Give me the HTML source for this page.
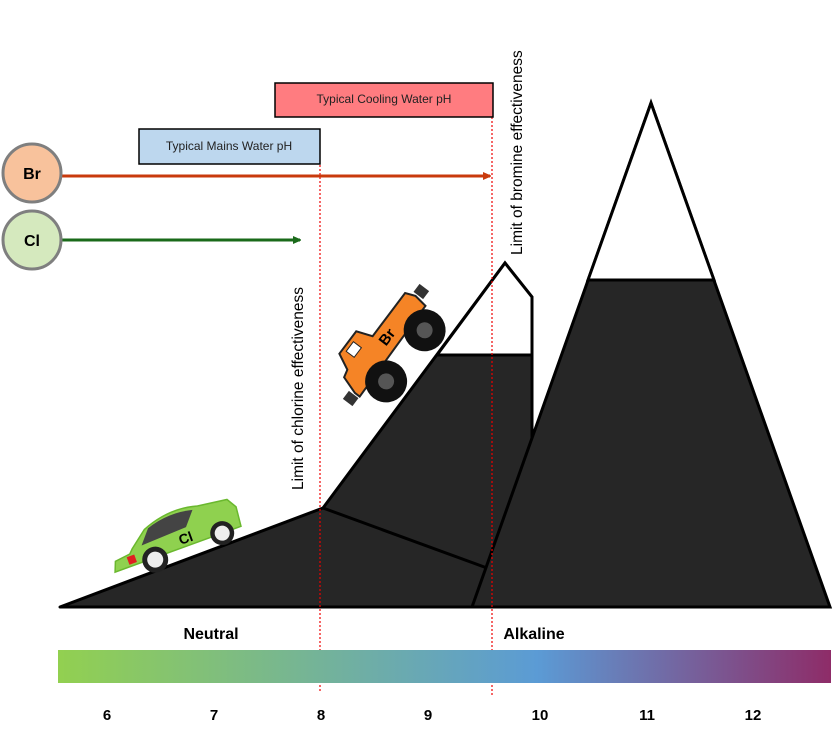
<!DOCTYPE html>
<html><head><meta charset="utf-8"><style>
html,body{margin:0;padding:0;background:#fff;}
svg{display:block;font-family:"Liberation Sans",sans-serif;}
</style></head><body>
<svg width="833" height="737" viewBox="0 0 833 737" xmlns="http://www.w3.org/2000/svg">
<defs>
<linearGradient id="g" x1="0" x2="1" y1="0" y2="0">
<stop offset="0" stop-color="#92d050"/>
<stop offset="0.62" stop-color="#5b9bd5"/>
<stop offset="1" stop-color="#8e2c68"/>
</linearGradient>
<marker id="ar" markerWidth="8" markerHeight="8" refX="7" refY="4" orient="auto" markerUnits="userSpaceOnUse"><path d="M0,0 L9,4 L0,8 z" fill="#c93a0c"/></marker>
<marker id="ag" markerWidth="8" markerHeight="8" refX="7" refY="4" orient="auto" markerUnits="userSpaceOnUse"><path d="M0,0 L9,4 L0,8 z" fill="#1a6a1a"/></marker>
</defs>
<polygon points="323,508 505,263 532,297 532,607 323,607" fill="#262626" stroke="#000" stroke-width="3"/>
<polygon points="437,355 505,263 532,297 532,355" fill="#fff" stroke="#000" stroke-width="3"/>
<polygon points="60,607 323,508 487,568 487,607" fill="#262626" stroke="#000" stroke-width="3" stroke-linejoin="round"/>
<line x1="60" y1="607" x2="596" y2="607" stroke="#000" stroke-width="3"/>
<polygon points="472,607 651,103 830,607" fill="#262626" stroke="#000" stroke-width="3"/>
<polygon points="588,280 651,103 714,280" fill="#fff" stroke="#000" stroke-width="3"/>
<line x1="320" y1="165" x2="320" y2="693" stroke="#e00" stroke-width="1.2" stroke-dasharray="2,2"/>
<line x1="492" y1="117" x2="492" y2="695" stroke="#e00" stroke-width="1.2" stroke-dasharray="2,2"/>
<rect x="139" y="129" width="181" height="35" fill="#bdd7ee" stroke="#000" stroke-width="1.5"/>
<text x="229" y="150" font-size="12" text-anchor="middle" fill="#222">Typical Mains Water pH</text>
<rect x="275" y="83" width="218" height="34" fill="#ff7c80" stroke="#000" stroke-width="1.5"/>
<text x="384" y="103" font-size="12" text-anchor="middle" fill="#222">Typical Cooling Water pH</text>
<line x1="62" y1="176" x2="490" y2="176" stroke="#c93a0c" stroke-width="3" marker-end="url(#ar)"/>
<line x1="62" y1="240" x2="300" y2="240" stroke="#1a6a1a" stroke-width="3" marker-end="url(#ag)"/>
<circle cx="32" cy="173" r="29" fill="#f8c29c" stroke="#7f7f7f" stroke-width="3"/>
<text x="32" y="179" font-size="16" font-weight="bold" text-anchor="middle">Br</text>
<circle cx="32" cy="240" r="29" fill="#d5e9be" stroke="#7f7f7f" stroke-width="3"/>
<text x="32" y="246" font-size="16" font-weight="bold" text-anchor="middle">Cl</text>
<text transform="translate(303,490) rotate(-90)" font-size="15.5">Limit of chlorine effectiveness</text>
<text transform="translate(522,255) rotate(-90)" font-size="15.5">Limit of bromine effectiveness</text>
<g transform="translate(180,540) rotate(-20)">
<path d="M-72,8 L-68,-2 L-52,-4 L-48,-8 L-30,-22 Q0,-34 28,-26 L58,-22 L64,-12 L62,8 Z" fill="#8fd14f" stroke="#6ab82e" stroke-width="1.5"/>
<path d="M-38,-8 L-26,-22 Q-2,-30 22,-24 L10,-10 Z" fill="#444"/>
<rect x="-56" y="-2" width="8" height="8" fill="#e02020"/>
<circle cx="-30" cy="10" r="13" fill="#222"/><circle cx="-30" cy="10" r="8" fill="#eee"/>
<circle cx="42" cy="8" r="12" fill="#222"/><circle cx="42" cy="8" r="7.5" fill="#eee"/>
<text x="6" y="5" font-size="14" font-weight="bold" text-anchor="middle">Cl</text>
</g>
<g transform="translate(385,343) rotate(-53)">
<path d="M-58,6 L-52,-12 L-44,-14 L-36,-30 L-8,-30 L-2,-14 L52,-14 L56,-4 L54,10 L-58,12 Z" fill="#f58426" stroke="#222" stroke-width="2"/>
<rect x="-30" y="-26" width="12" height="10" fill="#fff" stroke="#222"/>
<rect x="58" y="-8" width="10" height="12" fill="#333"/>
<rect x="-70" y="0" width="10" height="12" fill="#333"/>
<circle cx="-30" cy="24" r="21" fill="#111"/><circle cx="-30" cy="24" r="8" fill="#555"/>
<circle cx="34" cy="24" r="21" fill="#111"/><circle cx="34" cy="24" r="8" fill="#555"/>
<text x="6" y="3" font-size="15" font-weight="bold" text-anchor="middle">Br</text>
</g>
<text x="211" y="639" font-size="16" font-weight="bold" text-anchor="middle">Neutral</text>
<text x="534" y="639" font-size="16" font-weight="bold" text-anchor="middle">Alkaline</text>
<rect x="58" y="650" width="773" height="33" fill="url(#g)"/>
<g font-size="15" font-weight="bold" text-anchor="middle">
<text x="107" y="720">6</text><text x="214" y="720">7</text><text x="321" y="720">8</text>
<text x="428" y="720">9</text><text x="540" y="720">10</text><text x="647" y="720">11</text><text x="753" y="720">12</text>
</g>
</svg>
</body></html>
